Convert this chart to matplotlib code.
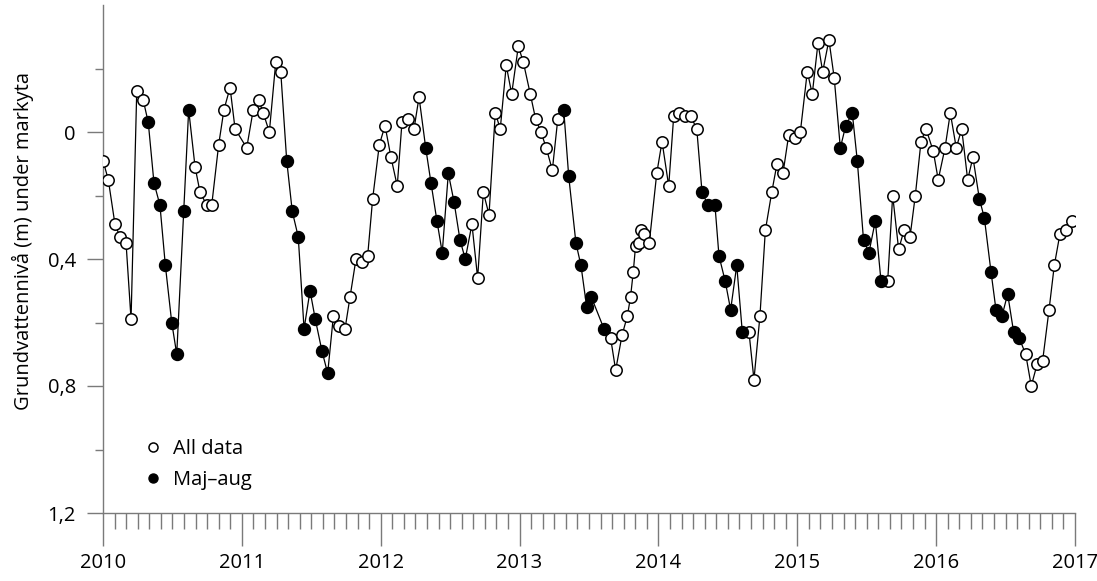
import numpy as np
import matplotlib
matplotlib.use('Agg')
import matplotlib.pyplot as plt
from matplotlib.lines import Line2D

plt.rcParams['font.family'] = ['Open Sans', 'DejaVu Sans']

# tid i decimalår, grundvattennivå (m under markyta), 1 = maj-aug
tid = [2010.000, 2010.038, 2010.086, 2010.122, 2010.166, 2010.202, 2010.243, 2010.290,
       2010.326, 2010.367, 2010.410, 2010.449, 2010.495, 2010.531, 2010.581, 2010.617,
       2010.663, 2010.699, 2010.747, 2010.783, 2010.833, 2010.871, 2010.915, 2010.951,
       2011.035, 2011.082, 2011.121, 2011.154, 2011.198, 2011.244, 2011.280, 2011.323,
       2011.363, 2011.406, 2011.448, 2011.491, 2011.529, 2011.577, 2011.618, 2011.659,
       2011.702, 2011.743, 2011.779, 2011.822, 2011.863, 2011.906, 2011.942, 2011.990,
       2012.031, 2012.074, 2012.119, 2012.153, 2012.194, 2012.240, 2012.276, 2012.324,
       2012.362, 2012.405, 2012.443, 2012.487, 2012.528, 2012.571, 2012.609, 2012.657,
       2012.698, 2012.739, 2012.780, 2012.825, 2012.861, 2012.904, 2012.943, 2012.991,
       2013.027, 2013.077, 2013.116, 2013.154, 2013.192, 2013.236, 2013.275, 2013.318,
       2013.354, 2013.406, 2013.442, 2013.483, 2013.517, 2013.608, 2013.656, 2013.692,
       2013.738, 2013.776, 2013.799, 2013.819, 2013.835, 2013.860, 2013.872, 2013.896,
       2013.934, 2013.988, 2014.026, 2014.074, 2014.110, 2014.150, 2014.189, 2014.232,
       2014.276, 2014.314, 2014.357, 2014.407, 2014.436, 2014.481, 2014.520, 2014.564,
       2014.604, 2014.652, 2014.688, 2014.731, 2014.770, 2014.816, 2014.854, 2014.897,
       2014.938, 2014.981, 2015.022, 2015.072, 2015.108, 2015.149, 2015.183, 2015.228,
       2015.266, 2015.310, 2015.349, 2015.396, 2015.432, 2015.477, 2015.516, 2015.562,
       2015.603, 2015.651, 2015.687, 2015.730, 2015.768, 2015.812, 2015.850, 2015.891,
       2015.927, 2015.979, 2016.015, 2016.064, 2016.102, 2016.145, 2016.184, 2016.227,
       2016.265, 2016.311, 2016.347, 2016.395, 2016.431, 2016.474, 2016.515, 2016.558,
       2016.599, 2016.645, 2016.685, 2016.728, 2016.767, 2016.813, 2016.851, 2016.892,
       2016.933, 2016.978]

niva = [0.09, 0.15, 0.29, 0.33, 0.35, 0.59, -0.13, -0.10,
        -0.03, 0.16, 0.23, 0.42, 0.60, 0.70, 0.25, -0.07,
        0.11, 0.19, 0.23, 0.23, 0.04, -0.07, -0.14, -0.01,
        0.05, -0.07, -0.10, -0.06, 0.00, -0.22, -0.19, 0.09,
        0.25, 0.33, 0.62, 0.50, 0.59, 0.69, 0.76, 0.58,
        0.61, 0.62, 0.52, 0.40, 0.41, 0.39, 0.21, 0.04,
        -0.02, 0.08, 0.17, -0.03, -0.04, -0.01, -0.11, 0.05,
        0.16, 0.28, 0.38, 0.13, 0.22, 0.34, 0.40, 0.29,
        0.46, 0.19, 0.26, -0.06, -0.01, -0.21, -0.12, -0.27,
        -0.22, -0.12, -0.04, 0.00, 0.05, 0.12, -0.04, -0.07,
        0.14, 0.35, 0.42, 0.55, 0.52, 0.62, 0.65, 0.75,
        0.64, 0.58, 0.52, 0.44, 0.36, 0.35, 0.31, 0.32,
        0.35, 0.13, 0.03, 0.17, -0.05, -0.06, -0.05, -0.05,
        -0.01, 0.19, 0.23, 0.23, 0.39, 0.47, 0.56, 0.42,
        0.63, 0.63, 0.78, 0.58, 0.31, 0.19, 0.10, 0.13,
        0.01, 0.02, 0.00, -0.19, -0.12, -0.28, -0.19, -0.29,
        -0.17, 0.05, -0.02, -0.06, 0.09, 0.34, 0.38, 0.28,
        0.47, 0.47, 0.20, 0.37, 0.31, 0.33, 0.20, 0.03,
        -0.01, 0.06, 0.15, 0.05, -0.06, 0.05, -0.01, 0.15,
        0.08, 0.21, 0.27, 0.44, 0.56, 0.58, 0.51, 0.63,
        0.65, 0.70, 0.80, 0.73, 0.72, 0.56, 0.42, 0.32,
        0.31, 0.28]

maj_aug = [0, 0, 0, 0, 0, 0, 0, 0,
           1, 1, 1, 1, 1, 1, 1, 1,
           0, 0, 0, 0, 0, 0, 0, 0,
           0, 0, 0, 0, 0, 0, 0, 1,
           1, 1, 1, 1, 1, 1, 1, 0,
           0, 0, 0, 0, 0, 0, 0, 0,
           0, 0, 0, 0, 0, 0, 0, 1,
           1, 1, 1, 1, 1, 1, 1, 0,
           0, 0, 0, 0, 0, 0, 0, 0,
           0, 0, 0, 0, 0, 0, 0, 1,
           1, 1, 1, 1, 1, 1, 0, 0,
           0, 0, 0, 0, 0, 0, 0, 0,
           0, 0, 0, 0, 0, 0, 0, 0,
           0, 1, 1, 1, 1, 1, 1, 1,
           1, 0, 0, 0, 0, 0, 0, 0,
           0, 0, 0, 0, 0, 0, 0, 0,
           0, 1, 1, 1, 1, 1, 1, 1,
           1, 0, 0, 0, 0, 0, 0, 0,
           0, 0, 0, 0, 0, 0, 0, 0,
           0, 1, 1, 1, 1, 1, 1, 1,
           1, 0, 0, 0, 0, 0, 0, 0,
           0, 0]

ar = list(range(2010, 2018))
y_major = [0.0, 0.4, 0.8, 1.2]
y_labels = ['0', '0,4', '0,8', '1,2']
y_minor = [-0.2, 0.2, 0.6, 1.0]

tid = np.array(tid)
niva = np.array(niva)
sommar = np.array(maj_aug) == 1

grey = '#7a7a7a'
fs = 14.5
fig = plt.figure(figsize=(10.97, 5.81), dpi=100)
ax = fig.add_axes([103/1097, 68/581, 972/1097, 508/581])

ax.plot(tid, niva, '-', color='black', lw=0.9, zorder=2)
ax.plot(tid[~sommar], niva[~sommar], 'o', ms=8.2, mfc='white', mec='black', mew=1.1, zorder=3)
ax.plot(tid[sommar], niva[sommar], 'o', ms=8.6, mfc='black', mec='black', mew=1.0, zorder=3)

ax.set_xlim(2010, 2017)
ax.set_ylim(1.2, -0.4)

ax.set_xticks(ar)
ax.set_xticklabels([str(a) for a in ar])
ax.set_xticks([a + m/12 for a in ar[:-1] for m in range(1, 12)], minor=True)
ax.set_yticks(y_major)
ax.set_yticklabels(y_labels)
ax.set_yticks(y_minor, minor=True)

ax.tick_params(axis='x', which='major', length=23.5, width=1, color=grey, labelsize=fs, pad=5)
ax.tick_params(axis='x', which='minor', length=11.5, width=1, color=grey)
ax.tick_params(axis='y', which='major', length=11.5, width=1, color=grey, labelsize=fs, pad=8)
ax.tick_params(axis='y', which='minor', length=6, width=1, color=grey)

for s in ['top', 'right']:
    ax.spines[s].set_visible(False)
for s in ['left', 'bottom']:
    ax.spines[s].set_color(grey)
    ax.spines[s].set_linewidth(1)

ax.set_ylabel('Grundvattennivå (m) under markyta', fontsize=fs)
ax.yaxis.set_label_coords(-0.071, 0.535)

handles = [Line2D([], [], ls='none', marker='o', ms=6.5, mfc='white', mec='black', mew=1.1),
           Line2D([], [], ls='none', marker='o', ms=6.5, mfc='black', mec='black')]
ax.legend(handles, ['All data', 'Maj–aug'], loc='upper left', bbox_to_anchor=(0.035, 0.162),
          frameon=False, fontsize=fs, handlelength=0.8, handletextpad=0.6, labelspacing=0.55,
          borderaxespad=0)

fig.savefig('out.png', dpi=100)
